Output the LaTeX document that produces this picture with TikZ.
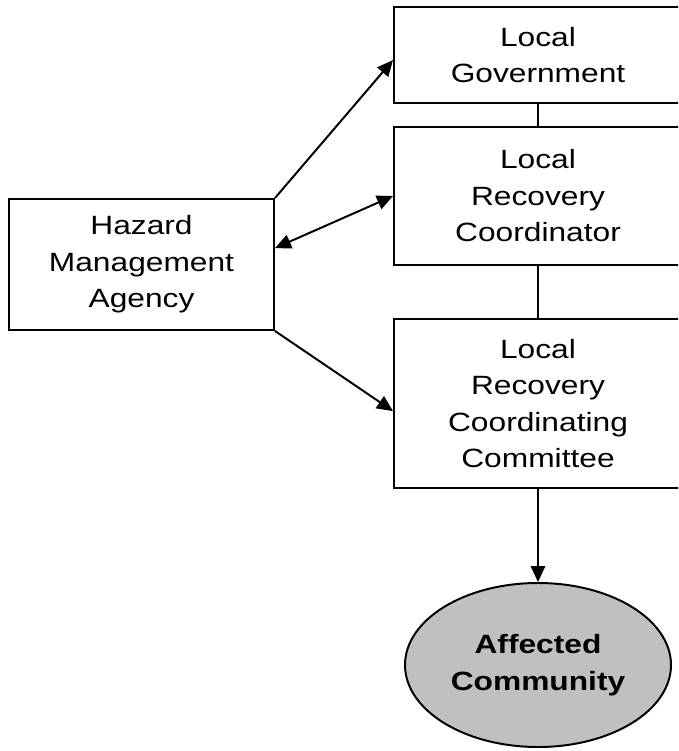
\documentclass[tikz,border=0pt]{standalone}
\usepackage{fontspec}
\setmainfont[FakeStretch=1.2]{Liberation Sans}
\usetikzlibrary{shapes.geometric,arrows.meta}
\definecolor{myGray}{RGB}{192, 192, 192}
\tikzset{
  box/.style={draw, line width=1.4pt, rectangle, align=center, inner sep=0pt,
    font=\fontsize{18.8}{26}\selectfont},
  community/.style={draw, line width=1.4pt, ellipse, fill=myGray, align=center, inner sep=0pt,
    minimum width=6.65cm, minimum height=4.1cm, font=\fontsize{18.8}{26}\selectfont\bfseries},
  link/.style={line width=1.4pt, -{Triangle[length=0.4cm, width=0.36cm]}}
}
\begin{document}
\begin{tikzpicture}
			\useasboundingbox (0,0) rectangle (16.95,-18.775);
			\clip (0,0) rectangle (16.95,-18.775);
			\draw (13.45,-1.375) node[box, minimum width=7.2cm, minimum height=2.4cm] (LG) {Local\\Government};
			\draw (13.45,-4.9) node[box, minimum width=7.2cm, minimum height=3.45cm] (LRC) {Local\\Recovery\\Coordinator};
			\draw (13.45,-10.0875) node[box, minimum width=7.2cm, minimum height=4.225cm] (LRCC) {Local\\Recovery\\Coordinating\\Committee};
			\draw (3.5375,-6.6125) node[box, minimum width=6.625cm, minimum height=3.275cm] (HMA) {Hazard\\Management\\Agency};
			\draw (13.45,-16.625) node[community] (AC) {Affected\\Community};
	
			\path[line width=1.4pt]
			(LG) edge (LRC)
			(LRC) edge (LRCC)
			;
			\path[link]
			(HMA.north east) edge (LG.182)
			(HMA.7.5) edge[{Triangle[length=0.4cm, width=0.36cm]}-{Triangle[length=0.4cm, width=0.36cm]}] (LRC.west)
			(HMA.south east) edge (LRCC.183)
			(LRCC) edge (AC)
			;
		\end{tikzpicture}
\end{document}
